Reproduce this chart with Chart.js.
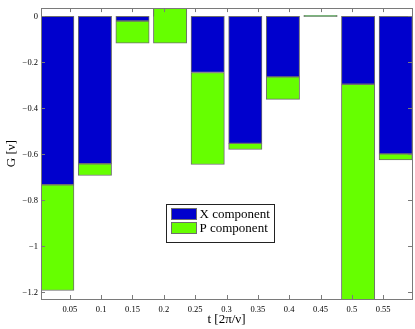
<!DOCTYPE html>
<html>
<head>
<meta charset="utf-8">
<script src="https://cdn.jsdelivr.net/npm/chart.js@4"></script>
<style>
  html, body { margin: 0; padding: 0; background: #fff; }
  canvas { display: block; }
</style>
</head>
<body>
<canvas id="chart" width="415" height="329"></canvas>
<script>
// bar positions (t) and the two components
var tValues    = [0.03, 0.09, 0.15, 0.21, 0.27, 0.33, 0.39, 0.45, 0.51, 0.57];
var xComponent = [-0.732, -0.641, -0.020, 0.050, -0.244, -0.552, -0.263, 0.004, -0.295, -0.598];
var pComponent = [-0.460, -0.051, -0.097, -0.166, -0.400, -0.027, -0.098, -0.004, -1.000, -0.026];

var xTicks = [0.05, 0.1, 0.15, 0.2, 0.25, 0.3, 0.35, 0.4, 0.45, 0.5, 0.55];
var yTicks = [0, -0.2, -0.4, -0.6, -0.8, -1, -1.2];

var BLUE = '#0000cd';
var GREEN = '#66ff00';
var EDGE = '#6e6e6e';
var SERIF = "'Liberation Serif', 'DejaVu Serif', serif";

// matlab style stacking: X from 0, P continues from the end of X
var xBars = [];
var pBars = [];
for (var i = 0; i < tValues.length; i++) {
  xBars.push({ x: tValues[i], y: [0, xComponent[i]] });
  pBars.push({ x: tValues[i], y: [xComponent[i], xComponent[i] + pComponent[i]] });
}

// box round the plot + ticks pointing inward on all four sides
var boxPlugin = {
  id: 'box',
  afterDatasetsDraw: function (chart) {
    var ctx = chart.ctx;
    var a = chart.chartArea;
    var xs = chart.scales.x;
    var ys = chart.scales.y;
    ctx.save();
    ctx.strokeStyle = '#7a7a7a';
    ctx.lineWidth = 1;
    ctx.beginPath();
    for (var i = 0; i < xTicks.length; i++) {
      var px = Math.round(xs.getPixelForValue(xTicks[i])) + 0.5;
      ctx.moveTo(px, a.bottom); ctx.lineTo(px, a.bottom - 4);
      ctx.moveTo(px, a.top); ctx.lineTo(px, a.top + 4);
    }
    for (var j = 0; j < yTicks.length; j++) {
      var py = Math.round(ys.getPixelForValue(yTicks[j])) + 0.5;
      ctx.moveTo(a.left, py); ctx.lineTo(a.left + 4, py);
      ctx.moveTo(a.right, py); ctx.lineTo(a.right - 4, py);
    }
    ctx.stroke();
    ctx.strokeRect(Math.round(a.left) + 0.5, Math.round(a.top) + 0.5,
      Math.round(a.right - a.left), Math.round(a.bottom - a.top));
    ctx.restore();
  }
};

// legend box sitting inside the axes
var legendPlugin = {
  id: 'insideLegend',
  afterDraw: function (chart) {
    var ctx = chart.ctx;
    var a = chart.chartArea;
    var left = Math.round(a.left + 125) + 0.5;
    var top = Math.round(a.top + 196) + 0.5;
    var w = 108, h = 38;
    ctx.save();
    ctx.fillStyle = '#fff';
    ctx.fillRect(left, top, w, h);
    ctx.strokeStyle = '#222';
    ctx.lineWidth = 1;
    ctx.strokeRect(left, top, w, h);
    var items = chart.data.datasets;
    ctx.font = '13px ' + SERIF;
    ctx.textBaseline = 'middle';
    ctx.textAlign = 'left';
    for (var i = 0; i < items.length; i++) {
      var sy = top + 4 + i * 14;
      ctx.fillStyle = items[i].backgroundColor;
      ctx.fillRect(left + 5, sy, 25, 11);
      ctx.strokeStyle = EDGE;
      ctx.strokeRect(left + 5, sy, 25, 11);
      ctx.fillStyle = '#000';
      ctx.fillText(items[i].label, left + 33, sy + 6);
    }
    ctx.restore();
  }
};

new Chart(document.getElementById('chart'), {
  type: 'bar',
  data: {
    datasets: [
      {
        label: 'X component',
        data: xBars,
        backgroundColor: BLUE,
        borderColor: EDGE,
        borderWidth: 1,
        borderSkipped: false,
        order: 1,
        clip: 0,
      },
      {
        label: 'P component',
        data: pBars,
        backgroundColor: GREEN,
        borderColor: EDGE,
        borderWidth: 1,
        borderSkipped: false,
        order: 0,
        clip: 0,
      },
    ],
  },
  options: {
    responsive: false,
    animation: false,
    barThickness: 'flex',
    categoryPercentage: 1,
    barPercentage: 0.887,
    layout: { padding: { left: 0, right: 3, top: 7, bottom: 0 } },
    plugins: {
      legend: { display: false },
      tooltip: { enabled: false },
    },
    scales: {
      x: {
        type: 'linear',
        offset: false,
        stacked: true,
        min: 0.004,
        max: 0.596,
        afterFit: function (s) { s.height = 30; },
        afterBuildTicks: function (s) { s.ticks = xTicks.map(function (v) { return { value: v }; }); },
        grid: { display: false, drawTicks: false },
        border: { display: false },
        ticks: {
          autoSkip: false,
          maxRotation: 0,
          padding: 6,
          color: '#000',
          font: { family: SERIF, size: 8.5 },
          callback: function (v) { return String(v); },
        },
        title: {
          display: true,
          text: 't [2π/ν]',
          color: '#000',
          font: { family: SERIF, size: 13 },
          padding: { top: 0, bottom: 2 },
        },
      },
      y: {
        stacked: false,
        min: -1.229,
        max: 0.036,
        afterFit: function (s) { s.width = 41; },
        afterBuildTicks: function (s) { s.ticks = yTicks.map(function (v) { return { value: v }; }); },
        grid: { display: false, drawTicks: false },
        border: { display: false },
        ticks: {
          autoSkip: false,
          padding: 3,
          color: '#000',
          font: { family: SERIF, size: 8.5 },
          callback: function (v) { return v === 0 ? '0' : '\u2212' + Math.abs(v); },
        },
        title: {
          display: true,
          text: 'G [ν]',
          color: '#000',
          font: { family: SERIF, size: 13 },
          padding: { top: 4, bottom: 0 },
        },
      },
    },
  },
  plugins: [boxPlugin, legendPlugin],
});
</script>
</body>
</html>
